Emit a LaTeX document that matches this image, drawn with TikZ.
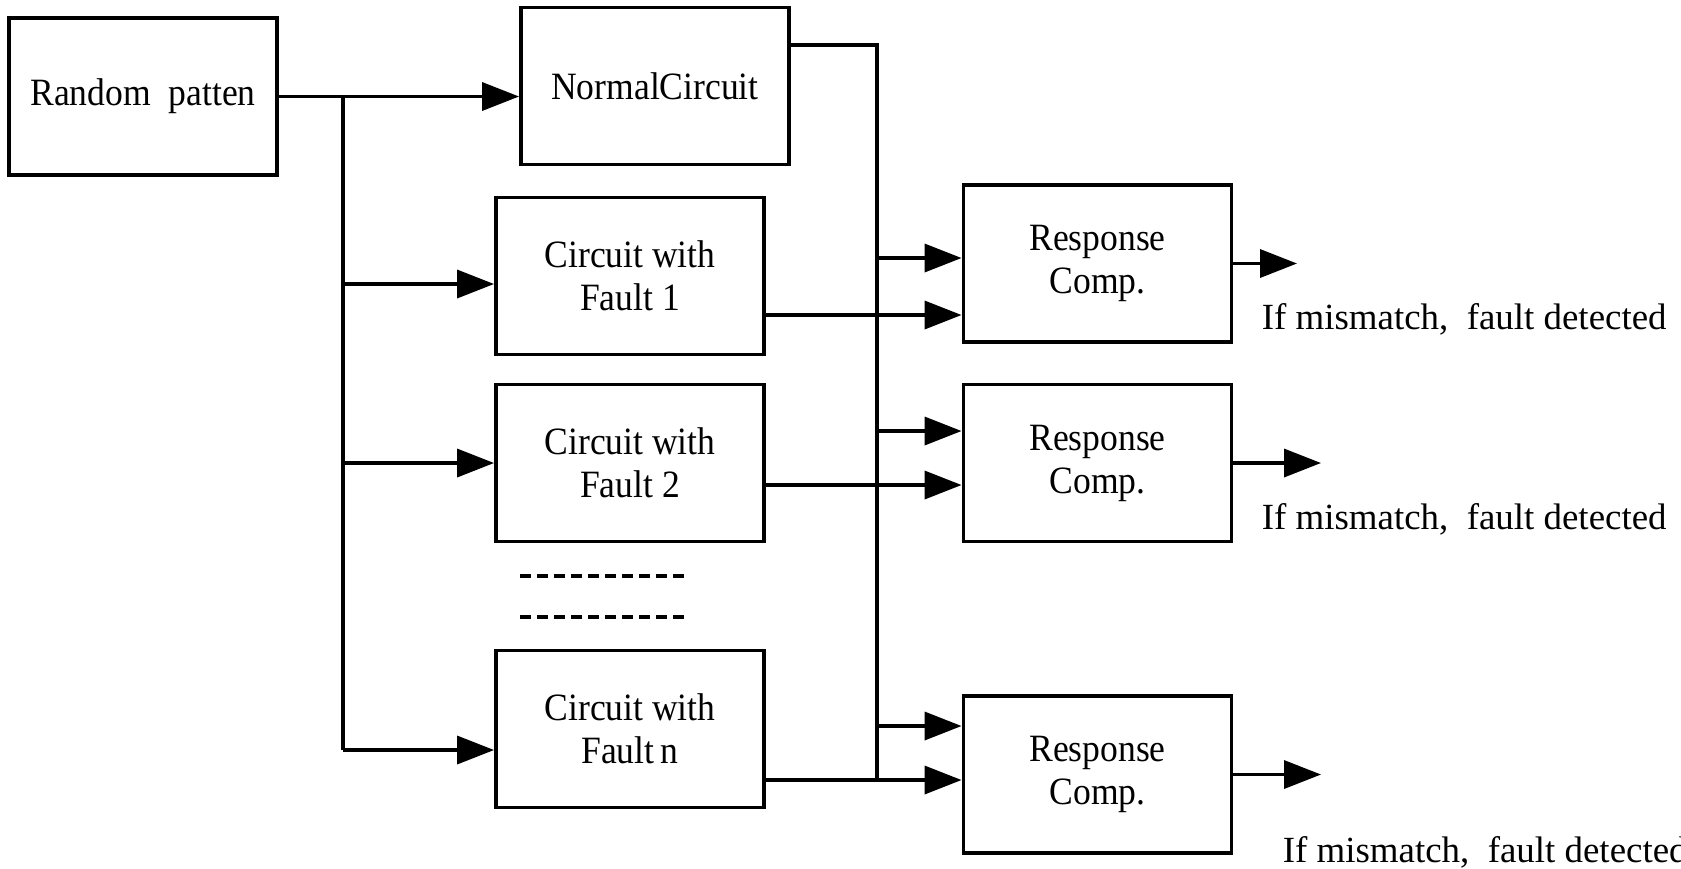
\documentclass[tikz,border=0pt]{standalone}
\usepackage{fontspec}
\setmainfont{Liberation Serif}
\newfontfamily\boxfont[FakeStretch=0.92]{Liberation Serif}
\usetikzlibrary{arrows.meta}

\begin{document}
\begin{tikzpicture}[>={Triangle[length=3.7mm,width=2.8mm]},line width=1pt,draw=black!100]
	\def \colmid{6.30}
	\def \colcmp{10.975}
	\def \busl{3.43}
	\def \busr{8.77}
	\tikzstyle{b-node}=[rectangle,draw=black!100,line width=1.1pt,minimum width=2.68cm,minimum height=1.57cm,align=center,inner sep=0pt,font=\boxfont\fontsize{11}{12.2}\selectfont]
	\tikzstyle{annot}=[anchor=west,inner sep=0pt,font=\fontsize{10.5}{12}\selectfont]
	\useasboundingbox (0,0) rectangle (16.81,-8.68);

	% source and reference circuit
	\node[b-node] 	(rand)		at (1.43,-0.965)	{Random\ \ patten};
	\node[b-node] 	(normal)	at (6.55,-0.86)		{NormalCircuit};

	% faulty circuits
	\node[b-node] 	(f1)	at (\colmid,-2.76)	{Circuit with\\Fault 1};
	\node[b-node] 	(f2)	at (\colmid,-4.63)	{Circuit with\\Fault 2};
	\node[b-node] 	(fn)	at (\colmid,-7.29)	{Circuit with\\Fault\,n};

	% comparators
	\node[b-node] 	(r1)	at (\colcmp,-2.635)	{Response\\Comp.};
	\node[b-node] 	(r2)	at (\colcmp,-4.63)	{Response\\Comp.};
	\node[b-node] 	(r3)	at (\colcmp,-7.745)	{Response\\Comp.};

	% labels
	\node[annot] 	(l1)	at (12.60,-3.19)	{If mismatch,\ \ fault detected};
	\node[annot] 	(l2)	at (12.60,-5.19)	{If mismatch,\ \ fault detected};
	\node[annot] 	(l3)	at (12.81,-8.52)	{If mismatch,\ \ fault detected};

	% skipped circuits
	\draw[dash pattern=on 1.1mm off 0.6mm,line width=1.3pt] (5.20,-5.76) -- (6.87,-5.76);
	\draw[dash pattern=on 1.1mm off 0.6mm,line width=1.3pt] (5.20,-6.17) -- (6.87,-6.17);

	% pattern bus
	\coordinate (pt) at (\busl,-0.965);
	\coordinate (p1) at (\busl,-2.84);
	\coordinate (p2) at (\busl,-4.63);
	\coordinate (pn) at (\busl,-7.50);
	\draw[->] (rand.east) -- (normal.west |- rand.east);
	\draw (pt) -- (pn);
	\draw[->] (p1) -- (p1 -| f1.west);
	\draw[->] (p2) -- (p2 -| f2.west);
	\draw[->] (pn) -- (pn -| fn.west);

	% reference bus
	\coordinate (qt) at (\busr,-0.45);
	\coordinate (q1) at (\busr,-2.58);
	\coordinate (q2) at (\busr,-4.31);
	\coordinate (qn) at (\busr,-7.26);
	\coordinate (qb) at (\busr,-7.80);
	\draw (normal.east |- qt) -- (qt) -- (qb);
	\draw[->] (q1) -- (q1 -| r1.west);
	\draw[->] (q2) -- (q2 -| r2.west);
	\draw[->] (qn) -- (qn -| r3.west);

	% faulty outputs
	\coordinate (o1) at ([yshift=-3.9mm]f1.east);
	\coordinate (o2) at ([yshift=-2.2mm]f2.east);
	\coordinate (on) at ([yshift=-5.1mm]fn.east);
	\draw[->] (o1) -- (o1 -| r1.west);
	\draw[->] (o2) -- (o2 -| r2.west);
	\draw[->] (on) -- (on -| r3.west);

	% results
	\coordinate (e1) at (12.97,-2.635);
	\coordinate (e2) at (13.21,-4.63);
	\coordinate (e3) at (13.21,-7.745);
	\draw[->] (r1.east) -- (e1);
	\draw[->] (r2.east) -- (e2);
	\draw[->] (r3.east) -- (e3);
\end{tikzpicture}
\end{document}
